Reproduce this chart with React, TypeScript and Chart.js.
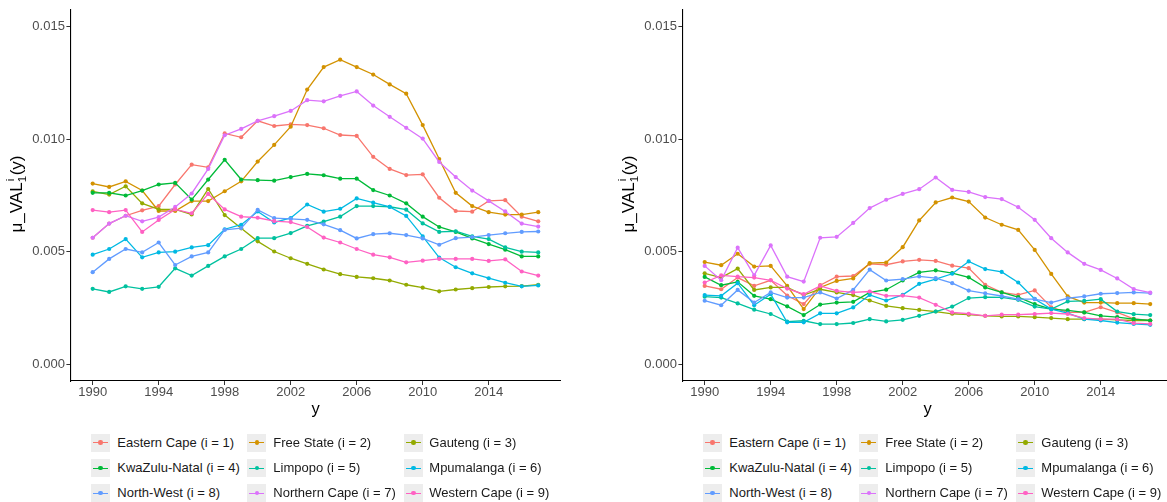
import React, { useEffect, useRef } from 'react';
import { Chart, registerables } from 'chart.js';

Chart.register(...registerables);

// ---------- data ----------
const years = [1990, 1991, 1992, 1993, 1994, 1995, 1996, 1997, 1998, 1999, 2000, 2001, 2002, 2003, 2004, 2005, 2006, 2007, 2008, 2009, 2010, 2011, 2012, 2013, 2014, 2015, 2016, 2017];
const xTickValues = [1990, 1994, 1998, 2002, 2006, 2010, 2014];
const yTickValues = [0, 0.005, 0.01, 0.015];

const provinceLabels = [
  'Eastern Cape (i = 1)',
  'Free State (i = 2)',
  'Gauteng (i = 3)',
  'KwaZulu-Natal (i = 4)',
  'Limpopo (i = 5)',
  'Mpumalanga (i = 6)',
  'North-West (i = 8)',
  'Northern Cape (i = 7)',
  'Western Cape (i = 9)',
];
const provinceColors = ['#F8766D', '#D39200', '#93AA00', '#00BA38', '#00C19F', '#00B9E3', '#619CFF', '#DB72FB', '#FF61C3'];

// Left panel
const leftEasternCape = [0.00562, 0.00625, 0.0066, 0.00684, 0.00703, 0.00799, 0.00887, 0.00875, 0.01026, 0.01009, 0.01082, 0.01059, 0.01066, 0.01063, 0.01049, 0.01019, 0.01015, 0.00922, 0.00868, 0.00841, 0.00844, 0.0074, 0.00681, 0.00678, 0.00726, 0.00729, 0.00656, 0.00635];
const leftFreeState = [0.00803, 0.00788, 0.00813, 0.00772, 0.00681, 0.00681, 0.00725, 0.00725, 0.00769, 0.00813, 0.00901, 0.00975, 0.01056, 0.01221, 0.01321, 0.01354, 0.01321, 0.01288, 0.01244, 0.01203, 0.01063, 0.00912, 0.00762, 0.00703, 0.00676, 0.00665, 0.00665, 0.00676];
const leftGauteng = [0.00768, 0.00754, 0.00791, 0.00715, 0.00688, 0.00688, 0.00666, 0.00779, 0.00663, 0.00604, 0.00546, 0.00501, 0.00471, 0.00446, 0.00421, 0.004, 0.00388, 0.00382, 0.00372, 0.00353, 0.0034, 0.00324, 0.00332, 0.00338, 0.00343, 0.00346, 0.00347, 0.00353];
const leftKwaZuluNatal = [0.00762, 0.00762, 0.0075, 0.00772, 0.00799, 0.00806, 0.00732, 0.00821, 0.00909, 0.00821, 0.00818, 0.00816, 0.00832, 0.00846, 0.0084, 0.00825, 0.00825, 0.00774, 0.0075, 0.00715, 0.00656, 0.0061, 0.00588, 0.00559, 0.00534, 0.00509, 0.00479, 0.00479];
const leftLimpopo = [0.00335, 0.00321, 0.00346, 0.00335, 0.00344, 0.00426, 0.00394, 0.00437, 0.00479, 0.00512, 0.0056, 0.0056, 0.00583, 0.00615, 0.00634, 0.00656, 0.00703, 0.00703, 0.007, 0.00687, 0.00626, 0.00588, 0.00591, 0.00568, 0.00556, 0.00519, 0.005, 0.00497];
const leftMpumalanga = [0.00487, 0.00512, 0.00556, 0.00475, 0.00497, 0.005, 0.00519, 0.00529, 0.006, 0.0062, 0.00679, 0.0063, 0.0065, 0.0071, 0.00678, 0.00691, 0.00737, 0.00718, 0.00699, 0.00659, 0.00568, 0.00474, 0.00431, 0.00404, 0.00382, 0.00362, 0.00346, 0.0035];
const leftNorthWest = [0.00409, 0.00468, 0.00512, 0.00497, 0.00541, 0.00441, 0.00479, 0.00497, 0.00597, 0.00605, 0.00686, 0.00649, 0.00646, 0.00642, 0.00622, 0.00596, 0.00559, 0.00578, 0.00582, 0.00574, 0.00559, 0.00531, 0.0056, 0.00565, 0.00574, 0.00582, 0.00588, 0.0059];
const leftNorthernCape = [0.00562, 0.00625, 0.0066, 0.00635, 0.00654, 0.00699, 0.00759, 0.00868, 0.01018, 0.01046, 0.01082, 0.01103, 0.01126, 0.01174, 0.01169, 0.01193, 0.01213, 0.0115, 0.011, 0.01051, 0.01003, 0.00899, 0.00832, 0.00772, 0.00726, 0.00679, 0.00625, 0.00612];
const leftWesternCape = [0.00685, 0.00676, 0.00685, 0.00588, 0.00641, 0.00688, 0.00671, 0.00757, 0.00688, 0.00656, 0.00651, 0.00636, 0.00632, 0.0061, 0.00563, 0.00541, 0.00512, 0.00487, 0.00475, 0.00453, 0.0046, 0.00468, 0.00468, 0.00468, 0.00459, 0.00466, 0.00412, 0.00394];

// Right panel
const rightEasternCape = [0.00348, 0.00333, 0.00385, 0.00348, 0.00373, 0.00305, 0.00267, 0.00351, 0.00389, 0.00392, 0.00446, 0.00442, 0.00457, 0.00464, 0.00459, 0.00438, 0.00427, 0.00353, 0.00319, 0.00308, 0.00328, 0.00253, 0.0023, 0.0023, 0.00253, 0.0023, 0.00201, 0.00194];
const rightFreeState = [0.00454, 0.0044, 0.00491, 0.00434, 0.00437, 0.00348, 0.00245, 0.00341, 0.0037, 0.00381, 0.00449, 0.00452, 0.0052, 0.00639, 0.00719, 0.00741, 0.00723, 0.00652, 0.0062, 0.00597, 0.00508, 0.00401, 0.00301, 0.00274, 0.00274, 0.00271, 0.00271, 0.00267];
const rightGauteng = [0.00404, 0.00385, 0.00425, 0.0033, 0.00341, 0.00341, 0.00307, 0.00333, 0.00319, 0.00307, 0.00283, 0.00259, 0.00249, 0.00241, 0.00234, 0.00224, 0.0022, 0.00215, 0.00212, 0.00212, 0.00209, 0.00205, 0.002, 0.002, 0.002, 0.00197, 0.00194, 0.00194];
const rightKwaZuluNatal = [0.00388, 0.00351, 0.00366, 0.00304, 0.00289, 0.00257, 0.00218, 0.00265, 0.00274, 0.00277, 0.00319, 0.00331, 0.00372, 0.00408, 0.00417, 0.00405, 0.00386, 0.00341, 0.00319, 0.00298, 0.00267, 0.00245, 0.00239, 0.0023, 0.00215, 0.00209, 0.002, 0.00194];
const rightLimpopo = [0.003, 0.00296, 0.0027, 0.00242, 0.00223, 0.00189, 0.00193, 0.00178, 0.00178, 0.00183, 0.002, 0.0019, 0.00197, 0.00215, 0.00234, 0.00256, 0.00294, 0.00298, 0.00297, 0.00286, 0.00256, 0.00245, 0.00279, 0.00281, 0.00289, 0.00234, 0.00222, 0.00218];
const rightMpumalanga = [0.00307, 0.00304, 0.0036, 0.00262, 0.00311, 0.00186, 0.00186, 0.00226, 0.00226, 0.00252, 0.00308, 0.00283, 0.00308, 0.00357, 0.00378, 0.00402, 0.00457, 0.00423, 0.0041, 0.00363, 0.0029, 0.00245, 0.00227, 0.002, 0.00194, 0.00185, 0.00179, 0.00175];
const rightNorthWest = [0.00282, 0.00262, 0.0033, 0.00274, 0.00319, 0.00296, 0.00296, 0.00319, 0.00292, 0.0033, 0.0042, 0.00372, 0.00378, 0.0039, 0.00383, 0.0036, 0.00327, 0.00315, 0.00303, 0.00289, 0.00289, 0.00274, 0.00293, 0.00301, 0.00313, 0.00316, 0.00319, 0.00316];
const rightNorthernCape = [0.00437, 0.00373, 0.00518, 0.00395, 0.00528, 0.00389, 0.00367, 0.00562, 0.00566, 0.00628, 0.00694, 0.00731, 0.00757, 0.00778, 0.0083, 0.00775, 0.00766, 0.00743, 0.00734, 0.00698, 0.00642, 0.0056, 0.00497, 0.00446, 0.00419, 0.00381, 0.00334, 0.00318];
const rightWesternCape = [0.00363, 0.00395, 0.00389, 0.00385, 0.00373, 0.00336, 0.00311, 0.00348, 0.00326, 0.00319, 0.00323, 0.00304, 0.00305, 0.00296, 0.00264, 0.0023, 0.00224, 0.00215, 0.0022, 0.0022, 0.00223, 0.00227, 0.00223, 0.00205, 0.002, 0.002, 0.00182, 0.00179];

const leftSeries = [leftEasternCape, leftFreeState, leftGauteng, leftKwaZuluNatal, leftLimpopo, leftMpumalanga, leftNorthWest, leftNorthernCape, leftWesternCape];
const rightSeries = [rightEasternCape, rightFreeState, rightGauteng, rightKwaZuluNatal, rightLimpopo, rightMpumalanga, rightNorthWest, rightNorthernCape, rightWesternCape];

// ---------- layout constants ----------
const FONT = '"Liberation Sans", Arial, Helvetica, sans-serif';
const PANEL_SHIFT = 612;
const CANVAS_W = 600;
const CANVAS_H = 400;

function PlotCanvas({ series }: { series: number[][] }) {
  const ref = useRef<HTMLCanvasElement | null>(null);
  useEffect(() => {
    if (!ref.current) return;
    const chart = new Chart(ref.current, {
      type: 'line',
      data: {
        datasets: series.map((vals, i) => ({
          label: provinceLabels[i],
          data: years.map((yr, k) => ({ x: yr, y: vals[k] })),
          borderColor: provinceColors[i],
          backgroundColor: provinceColors[i],
          borderWidth: 1.3,
          pointRadius: 2.1,
          pointBorderWidth: 0,
          pointHoverRadius: 2.1,
          tension: 0,
          fill: false,
          order: 8 - i,
          clip: false as any,
        })),
      },
      options: {
        responsive: false,
        animation: false,
        events: [],
        layout: { padding: { top: 10, right: CANVAS_W - 560.5, left: 0, bottom: 0 } },
        plugins: { legend: { display: false }, tooltip: { enabled: false }, title: { display: false } },
        scales: {
          x: {
            type: 'linear',
            min: 1988.65,
            max: 2018.35,
            afterBuildTicks: (s: any) => {
              s.ticks = xTickValues.map((v) => ({ value: v }));
            },
            afterFit: (s: any) => {
              s.height = CANVAS_H - 381;
            },
            grid: { drawOnChartArea: false, drawTicks: true, tickLength: 4, color: '#333333', lineWidth: 1 },
            border: { display: true, color: '#000000', width: 1.1 },
            ticks: {
              color: '#4D4D4D',
              font: { family: FONT, size: 13 },
              padding: 0,
              maxRotation: 0,
              autoSkip: false,
              callback: (v: any) => String(v),
            },
          },
          y: {
            type: 'linear',
            min: -0.00075,
            max: 0.01575,
            afterBuildTicks: (s: any) => {
              s.ticks = yTickValues.map((v) => ({ value: v }));
            },
            afterFit: (s: any) => {
              s.width = 70.4;
            },
            grid: { drawOnChartArea: false, drawTicks: true, tickLength: 4, color: '#333333', lineWidth: 1 },
            border: { display: true, color: '#000000', width: 1.1 },
            ticks: {
              color: '#4D4D4D',
              font: { family: FONT, size: 13 },
              padding: 1.5,
              callback: (v: any) => Number(v).toFixed(3),
            },
          },
        },
      },
    } as any);
    return () => chart.destroy();
  }, [series]);
  return <canvas ref={ref} width={CANVAS_W} height={CANVAS_H} style={{ position: 'absolute', left: 0, top: 0, width: CANVAS_W, height: CANVAS_H }} />;
}

const legendBoxX = [91, 247.3, 404];
const legendTextX = [117.3, 273.3, 429.3];
const legendRowY = [442.7, 468.3, 493.3];

function Legend() {
  return (
    <>
      {provinceLabels.map((label, i) => {
        const col = i % 3;
        const row = Math.floor(i / 3);
        const cy = legendRowY[row];
        return (
          <React.Fragment key={label}>
            <div
              style={{
                position: 'absolute',
                left: legendBoxX[col],
                top: cy - 9,
                width: 19,
                height: 18,
                background: '#EDEDED',
              }}
            >
              <div style={{ position: 'absolute', left: 2, right: 2, top: 8.4, height: 1.2, background: provinceColors[i] }} />
              <div
                style={{
                  position: 'absolute',
                  left: 9.5 - 2.2,
                  top: 9 - 2.2,
                  width: 4.4,
                  height: 4.4,
                  borderRadius: '50%',
                  background: provinceColors[i],
                }}
              />
            </div>
            <div
              style={{
                position: 'absolute',
                left: legendTextX[col],
                top: cy - 10,
                height: 20,
                lineHeight: '20px',
                fontFamily: FONT,
                fontSize: 13,
                color: '#1A1A1A',
                whiteSpace: 'nowrap',
              }}
            >
              {label}
            </div>
          </React.Fragment>
        );
      })}
    </>
  );
}

function YTitle() {
  const cx = 16.5;
  const cy = 194;
  return (
    <div
      style={{
        position: 'absolute',
        left: cx - 100,
        top: cy - 10,
        width: 200,
        height: 20,
        lineHeight: '20px',
        textAlign: 'center',
        transform: 'rotate(-90deg)',
        transformOrigin: '50% 50%',
        fontFamily: FONT,
        fontSize: 17,
        color: '#000000',
        whiteSpace: 'nowrap',
      }}
    >
      <span>μ_VAL</span>
      <span style={{ display: 'inline-block', position: 'relative', width: 7, height: 0 }}>
        <span style={{ position: 'absolute', left: 1, top: -18, fontSize: 11.5, lineHeight: '13px' }}>i</span>
        <span style={{ position: 'absolute', left: 0, top: -6, fontSize: 11.5, lineHeight: '13px' }}>1</span>
      </span>
      <span>(y)</span>
    </div>
  );
}

function XTitle() {
  return (
    <div
      style={{
        position: 'absolute',
        left: 315.5 - 50,
        top: 398,
        width: 100,
        height: 20,
        lineHeight: '20px',
        textAlign: 'center',
        fontFamily: FONT,
        fontSize: 16.5,
        color: '#000000',
      }}
    >
      y
    </div>
  );
}

function Panel({ series, offset }: { series: number[][]; offset: number }) {
  return (
    <div style={{ position: 'absolute', left: offset, top: 0, width: CANVAS_W, height: 502 }}>
      <PlotCanvas series={series} />
      <YTitle />
      <XTitle />
      <Legend />
    </div>
  );
}

export default function App() {
  return (
    <div
      style={{
        position: 'fixed',
        left: 0,
        top: 0,
        width: 1167,
        height: 502,
        overflow: 'hidden',
        background: '#FFFFFF',
      }}
    >
      <Panel series={leftSeries} offset={0} />
      <Panel series={rightSeries} offset={PANEL_SHIFT} />
    </div>
  );
}
